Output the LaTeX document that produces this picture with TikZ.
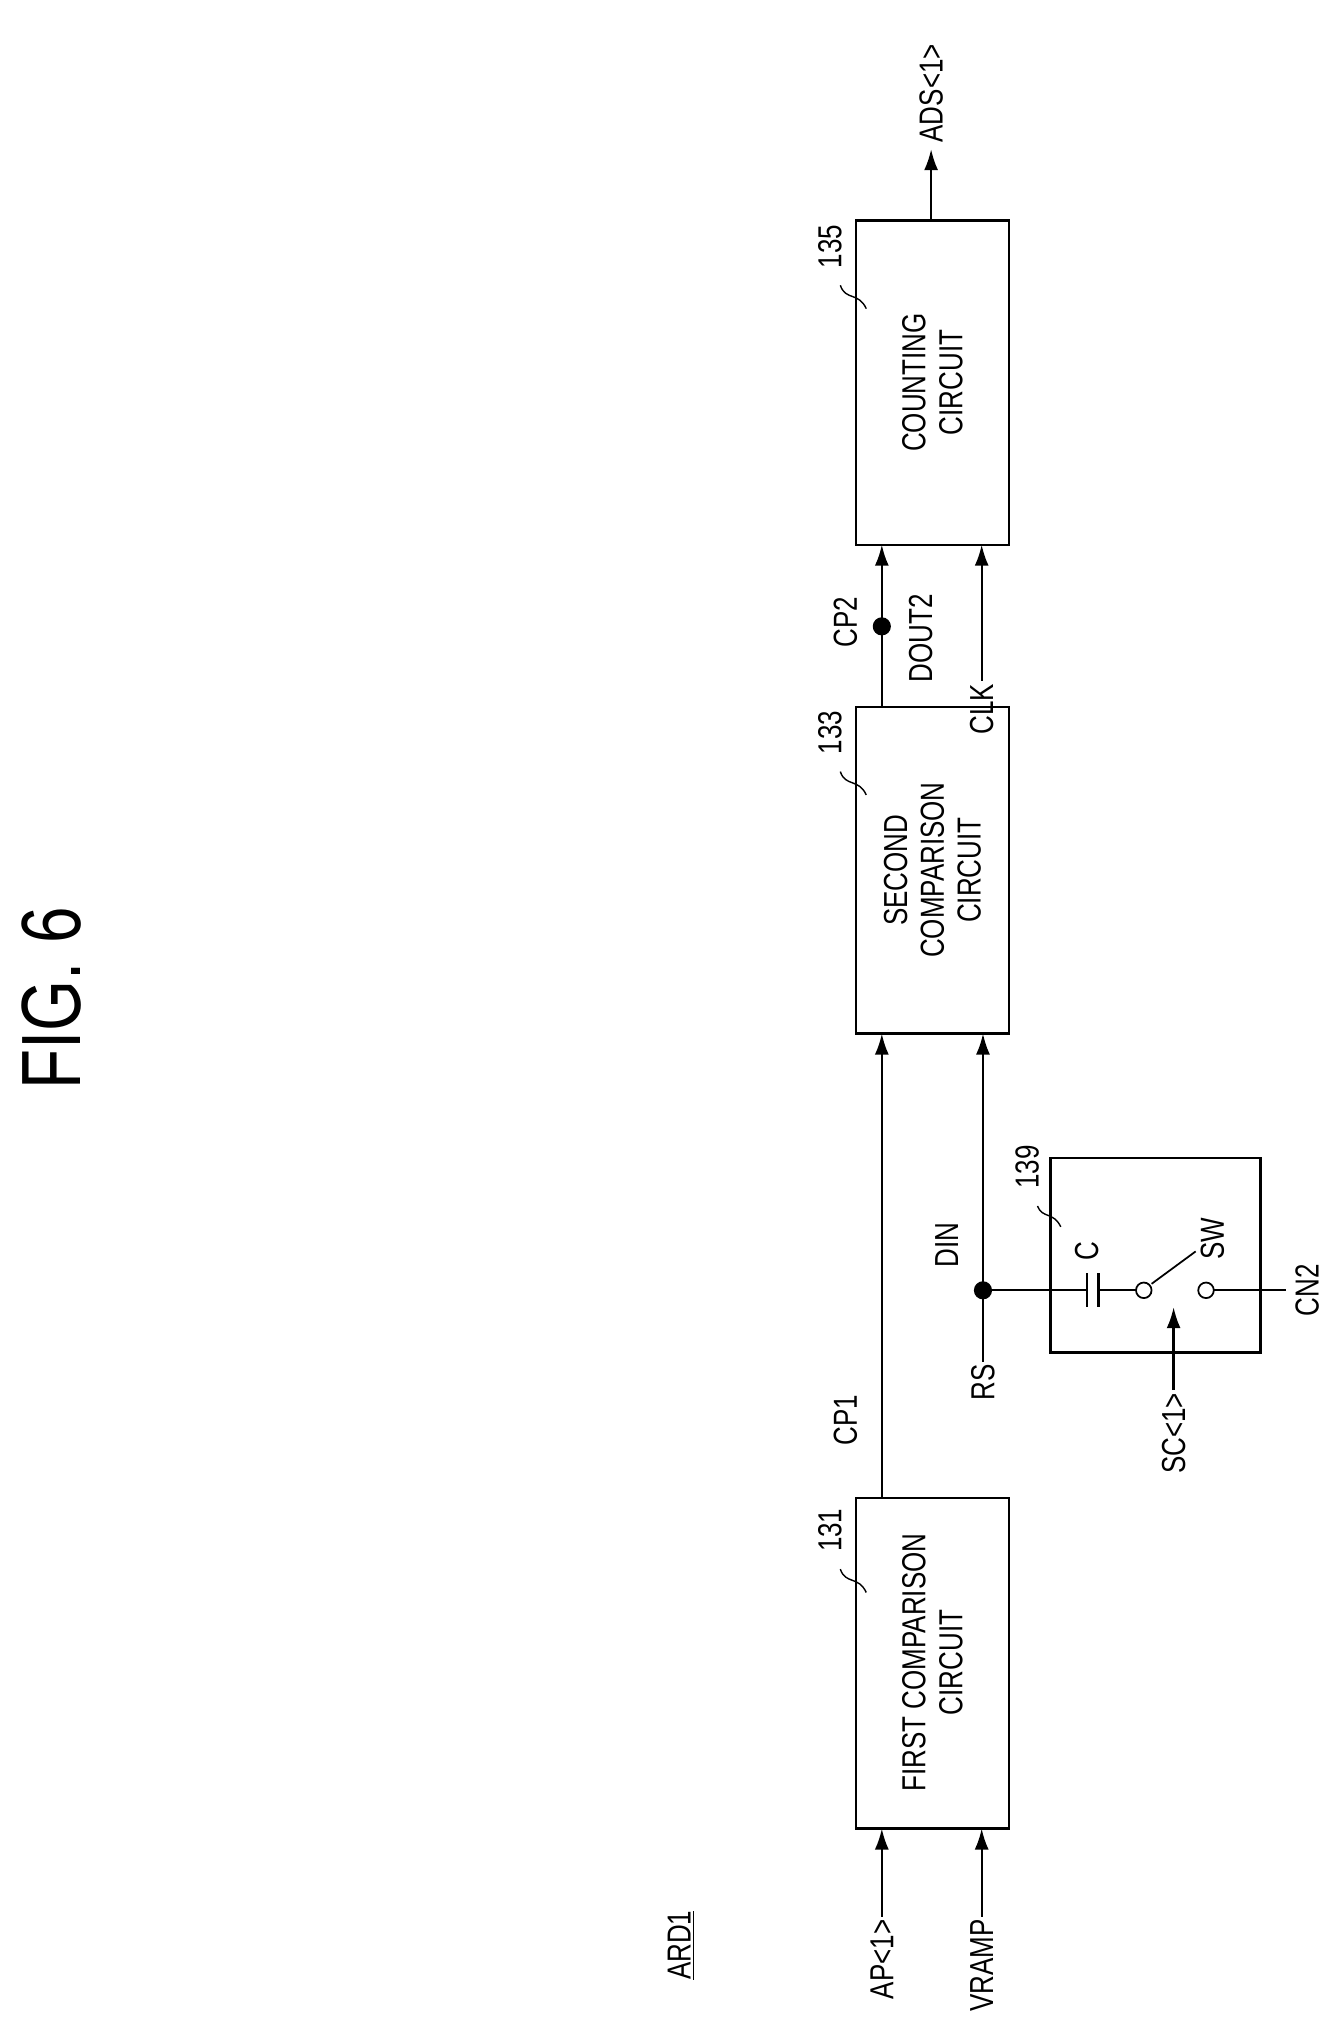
\documentclass[tikz,border=0pt]{standalone}
\usepackage{fontspec}
\setmainfont{Liberation Sans}[FakeStretch=0.78]
\usetikzlibrary{arrows.meta}
\begin{document}
\begin{tikzpicture}[x=0.026cm,y=-0.026cm,line width=1.3pt,
  lbl/.style={rotate=90,font=\fontsize{19}{21}\selectfont,inner sep=1pt},
  blk/.style={draw,minimum width=0pt,inner sep=0pt},
  sig/.style={-{Latex[length=12pt,width=8pt]}},
  lead/.style={line width=0.8pt}]
\useasboundingbox (0,0) rectangle (1030,1560);
\node[rotate=90,font=\fontsize{48}{50}\selectfont] (fig) at (40,770) {FIG. 6};
% blocks
\draw (660,1155) rectangle (778,1410);
\draw (660,545) rectangle (778,797);
\draw (660,170) rectangle (778,420);
\draw (810,893) rectangle (972,1043);
\node[lbl,align=center] (first) at (719,1282) {FIRST COMPARISON\\CIRCUIT};
\node[lbl,align=center] (second) at (719,671) {SECOND\\COMPARISON\\CIRCUIT};
\node[lbl,align=center] (count) at (719,295) {COUNTING\\CIRCUIT};
% reference numerals
\node[lbl] (n131) at (640,1180) {131};
\node[lbl] (n133) at (640,565) {133};
\node[lbl] (n135) at (640,190) {135};
\node[lbl] (n139) at (792,900) {139};
\draw[lead] (648,1210) .. controls (652,1222) and (662,1215) .. (668,1228);
\draw[lead] (648,595) .. controls (652,607) and (662,600) .. (668,613);
\draw[lead] (648,220) .. controls (652,232) and (662,225) .. (668,238);
\draw[lead] (800,930) .. controls (804,940) and (812,934) .. (818,946);
\node[lbl] (ard) at (525,1500) {\underline{ARD1}};
% inputs of first comparison
\node[lbl,anchor=east] (ap) at (680,1478) {AP<1>};
\node[lbl,anchor=east] (vramp) at (757,1478) {VRAMP};
\draw[sig] (ap.east) -- (680,1410);
\draw[sig] (vramp.east) -- (757,1410);
% CP1
\draw[sig] (680,1155) -- (680,797);
\node[lbl] (cp1) at (652,1095) {CP1};
% RS / DIN
\node[lbl,anchor=east] (rs) at (758,1050) {RS};
\draw[sig] (rs.east) -- (758,797);
\coordinate (din) at (758,995);
\fill (din) circle (7);
\node[lbl] (dinl) at (730,960) {DIN};
% capacitor and switch
\draw (din) -- (838,995);
\draw (838,982) -- (838,1008);
\draw (847,982) -- (847,1008);
\node[lbl] (cl) at (838,965) {C};
\draw (847,995) -- (876,995);
\draw[fill=white,line width=1pt] (882,995) circle (6);
\draw[line width=1pt] (888,990) -- (922,965);
\draw[fill=white,line width=1pt] (930,995) circle (6);
\draw (936,995) -- (992,995);
\node[lbl] (sw) at (935,955) {SW};
\node[lbl] (cn2) at (1008,995) {CN2};
\node[lbl,anchor=east] (sc) at (905,1072) {SC<1>};
\draw[sig] (sc.east) -- (905,1008);
% CP2 / DOUT2
\draw[sig] (680,545) -- (680,420);
\fill (680,483) circle (7);
\node[lbl] (cp2) at (652,480) {CP2};
\node[lbl] (dout) at (710,492) {DOUT2};
\node[lbl,anchor=east] (clk) at (757,525) {CLK};
\draw[sig] (clk.east) -- (757,420);
% output
\draw[sig] (718,170) -- (718,115);
\node[lbl,anchor=west] (ads) at (718,112) {ADS<1>};
\end{tikzpicture}
\end{document}
